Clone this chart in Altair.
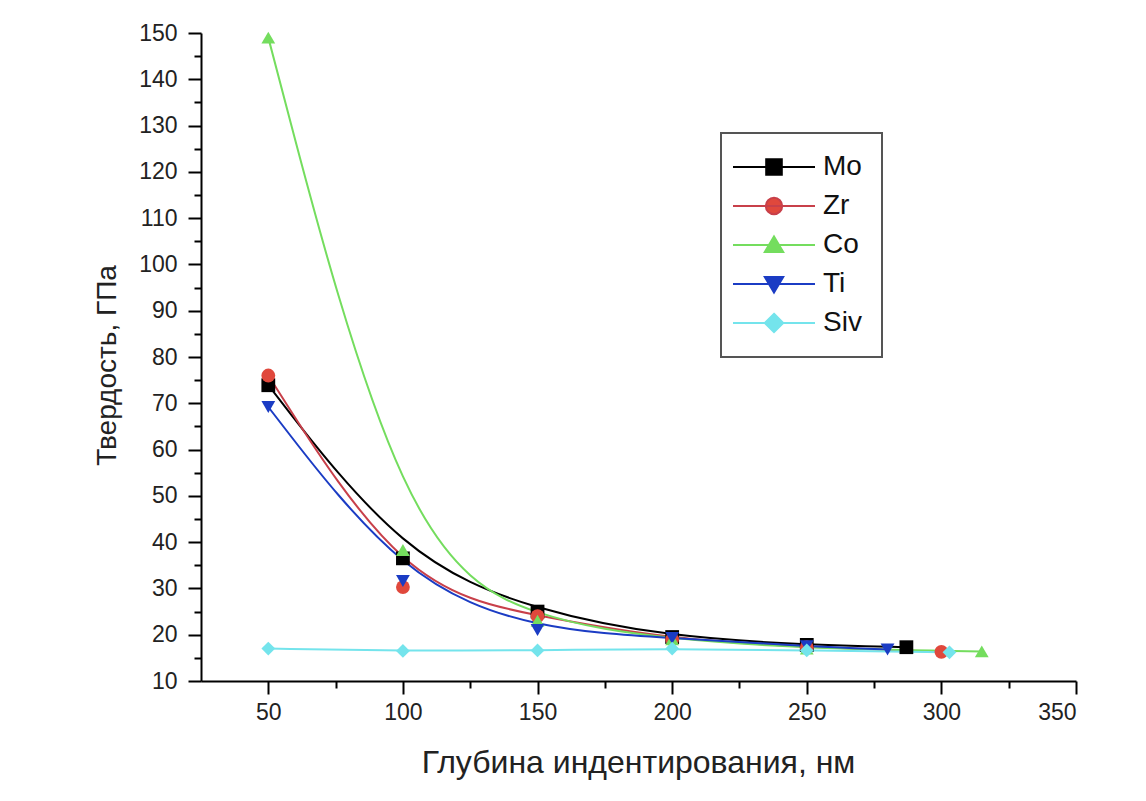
import altair as alt
import pandas as pd

series = ["Mo", "Zr", "Co", "Ti", "Siv"]

mo_x = [50, 100, 150, 200, 250, 287]
mo_y = [73.9, 36.5, 25.0, 19.5, 17.8, 17.3]
zr_x = [50, 100, 150, 200, 250, 300]
zr_y = [76.0, 30.3, 24.0, 19.0, 17.3, 16.3]
co_x = [50, 100, 150, 200, 250, 315]
co_y = [149.0, 38.3, 23.0, 19.0, 17.0, 16.4]
ti_x = [50, 100, 150, 200, 250, 280]
ti_y = [69.2, 31.6, 21.0, 19.3, 17.5, 16.8]
siv_x = [50, 100, 150, 200, 250, 303]
siv_y = [17.0, 16.5, 16.6, 17.0, 16.6, 16.2]

colors = ["#000000", "#E0483C", "#74DD5E", "#1B3CC4", "#74E4EC"]
line_colors = ["#000000", "#C8404A", "#74DD5E", "#1B3CC4", "#74E4EC"]
shapes = ["square", "circle", "triangle-up", "triangle-down", "diamond"]

x_ticks = list(range(50, 351, 25))
y_ticks = list(range(10, 151, 5))

legend_paths = [
    "M-4.1,0H4.1M-0.78,-0.78H0.78V0.78H-0.78Z",
    "M-4.1,0H4.1M0.82,0A0.82,0.82,0,1,1,-0.82,0A0.82,0.82,0,1,1,0.82,0Z",
    "M-4.1,0H4.1M0,-0.85L0.92,0.7H-0.92Z",
    "M-4.1,0H4.1M0,0.85L0.92,-0.7H-0.92Z",
    "M-4.1,0H4.1M0,-0.92L0.92,0L0,0.92L-0.92,0Z",
]

rows = []
for name, xs, ys in zip(series, [mo_x, zr_x, co_x, ti_x, siv_x],
                        [mo_y, zr_y, co_y, ti_y, siv_y]):
    for i, (xv, yv) in enumerate(zip(xs, ys)):
        rows.append({"series": name, "depth": xv, "hardness": yv, "idx": i})
df = pd.DataFrame(rows)

FONT = "Liberation Sans"

legend = alt.Legend(
    title=None,
    orient="none",
    legendX=520,
    legendY=100,
    symbolOpacity=1,
)

x_enc = alt.X(
    "depth:Q",
    scale=alt.Scale(domain=[25, 350], nice=False, zero=False),
    axis=alt.Axis(
        values=x_ticks,
        labelExpr="datum.value % 50 === 0 ? datum.label : ''",
        labelOverlap=False,
        tickSize={"condition": {"test": "datum.value % 50 === 0", "value": 13}, "value": 7},
        labelPadding=7,
        title="Глубина индентирования, нм",
        titleX=437,
        titleY=81,
        titleBaseline="middle",
        titleAlign="center",
        titleFontSize=32,
    ),
)
y_enc = alt.Y(
    "hardness:Q",
    scale=alt.Scale(domain=[10, 150], nice=False, zero=False),
    axis=alt.Axis(
        values=y_ticks,
        labelExpr="datum.value % 10 === 0 ? datum.label : ''",
        labelOverlap=False,
        tickSize={"condition": {"test": "datum.value % 10 === 0", "value": 13}, "value": 7},
        labelPadding=11,
        title="Твердость, ГПа",
        titleX=-94,
        titleY=332,
        titleAngle=270,
        titleBaseline="middle",
        titleAlign="center",
        titleFontSize=28,
    ),
)

line_layers = []
point_layers = []
for name, shp, col, lcol in zip(series, shapes, colors, line_colors):
    base = alt.Chart(df).transform_filter(alt.datum.series == name)
    line_layers.append(
        base.mark_line(interpolate="basis", strokeWidth=2, color=lcol).encode(
            x=x_enc, y=y_enc, order="idx:Q"
        )
    )
    point_layers.append(
        base.mark_point(filled=True, size=190, opacity=1, shape=shp, color=col).encode(
            x=x_enc, y=y_enc
        )
    )

legend_layer = alt.Chart(df).mark_point(filled=True, size=160, opacity=0).encode(
    x=x_enc,
    y=y_enc,
    fill=alt.Fill("series:N", scale=alt.Scale(domain=series, range=colors), legend=legend, sort=series),
    stroke=alt.Stroke("series:N", scale=alt.Scale(domain=series, range=line_colors), legend=legend, sort=series),
    shape=alt.Shape("series:N", scale=alt.Scale(domain=series, range=legend_paths), legend=legend, sort=series),
)

chart = (
    alt.layer(*line_layers, *point_layers, legend_layer)
    .properties(
        width=875,
        height=648,
        autosize=alt.AutoSizeParams(type="none"),
        padding={"left": 193, "top": 25, "right": 62, "bottom": 112},
        background="white",
    )
    .configure_view(stroke=None)
    .configure_axis(
        grid=False,
        domainColor="black",
        domainWidth=2,
        tickColor="black",
        tickWidth=2,
        labelFont=FONT,
        labelFontSize=23,
        labelColor="#222222",
        titleFont=FONT,
        titleFontWeight="normal",
        titleColor="#222222",
    )
    .configure_legend(
        labelFont=FONT,
        labelFontSize=28,
        labelColor="#111111",
        symbolSize=400,
        symbolStrokeWidth=2,
        rowPadding=11,
        strokeColor="#555555",
        strokeWidth=2,
        fillColor="white",
        padding=20,
        symbolOffset=19,
        labelOffset=35,
    )
)

chart.save("out.html", embed_options={"renderer": "svg", "actions": False})
